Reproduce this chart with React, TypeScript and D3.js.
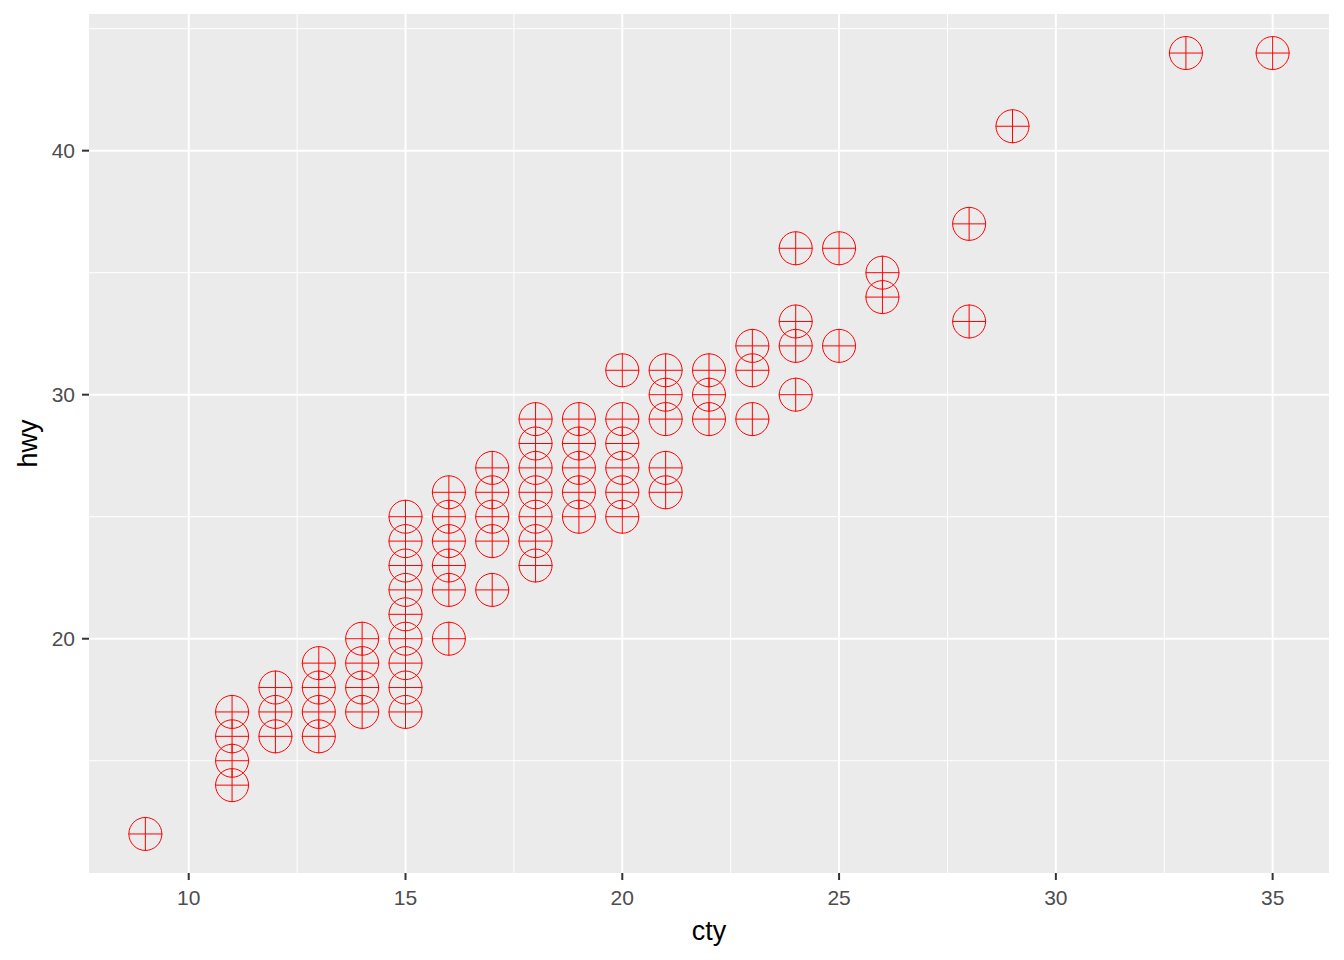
import React from 'react';
import * as d3 from 'd3';

// cty values, and the hwy values seen at each cty
const ctyValues = [9, 11, 12, 13, 14, 15, 16, 17, 18, 19, 20, 21, 22, 23, 24, 25, 26, 28, 29, 33, 35];
const hwyByCty = [
  [12],
  [14, 15, 16, 17],
  [16, 17, 18],
  [16, 17, 18, 19],
  [17, 18, 19, 20],
  [17, 18, 19, 20, 21, 22, 23, 24, 25],
  [20, 22, 23, 24, 25, 26],
  [22, 24, 25, 26, 27],
  [23, 24, 25, 26, 27, 28, 29],
  [25, 26, 27, 28, 29],
  [25, 26, 27, 28, 29, 31],
  [26, 27, 29, 30, 31],
  [29, 30, 31],
  [29, 31, 32],
  [30, 32, 33, 36],
  [32, 36],
  [34, 35],
  [33, 37],
  [41],
  [44],
  [44],
];
const xTicks = [10, 15, 20, 25, 30, 35];
const xMinor = [12.5, 17.5, 22.5, 27.5, 32.5];
const yTicks = [20, 30, 40];
const yMinor = [15, 25, 35, 45];

const W = 1344;
const H = 960;
const margin = { top: 14, right: 15, bottom: 87, left: 89 };

const points = ctyValues.flatMap((c, i) => hwyByCty[i].map(h => ({ cty: c, hwy: h })));

export default function App() {
  const x0 = d3.min(points, d => d.cty)!;
  const x1 = d3.max(points, d => d.cty)!;
  const y0 = d3.min(points, d => d.hwy)!;
  const y1 = d3.max(points, d => d.hwy)!;
  const xPad = (x1 - x0) * 0.05;
  const yPad = (y1 - y0) * 0.05;

  const x = d3.scaleLinear()
    .domain([x0 - xPad, x1 + xPad])
    .range([margin.left, W - margin.right]);
  const y = d3.scaleLinear()
    .domain([y0 - yPad, y1 + yPad])
    .range([H - margin.bottom, margin.top]);

  const left = margin.left;
  const right = W - margin.right;
  const top = margin.top;
  const bottom = H - margin.bottom;
  const r = 17;
  const font = 'Liberation Sans, Arial, sans-serif';

  return (
    <svg width={W} height={H} style={{ position: 'absolute', left: 0, top: 0 }}>
      <rect x={0} y={0} width={W} height={H} fill="#fff" />
      <rect x={left} y={top} width={right - left} height={bottom - top} fill="#EBEBEB" />

      {xMinor.map(t => (
        <line key={'xm' + t} x1={x(t)} x2={x(t)} y1={top} y2={bottom} stroke="#fff" strokeWidth={1} />
      ))}
      {yMinor.map(t => (
        <line key={'ym' + t} x1={left} x2={right} y1={y(t)} y2={y(t)} stroke="#fff" strokeWidth={1} />
      ))}
      {xTicks.map(t => (
        <line key={'xM' + t} x1={x(t)} x2={x(t)} y1={top} y2={bottom} stroke="#fff" strokeWidth={2} />
      ))}
      {yTicks.map(t => (
        <line key={'yM' + t} x1={left} x2={right} y1={y(t)} y2={y(t)} stroke="#fff" strokeWidth={2} />
      ))}

      <g fill="none" stroke="#FF0000" strokeWidth={1}>
        {points.map((p, i) => {
          const cx = x(p.cty);
          const cy = y(p.hwy);
          return (
            <g key={i}>
              <circle cx={cx} cy={cy} r={r - 0.5} />
              <line x1={cx - r} x2={cx + r} y1={cy} y2={cy} />
              <line x1={cx} x2={cx} y1={cy - r} y2={cy + r} />
            </g>
          );
        })}
      </g>

      {xTicks.map(t => (
        <g key={'xt' + t}>
          <line x1={x(t)} x2={x(t)} y1={bottom} y2={bottom + 7} stroke="#333" strokeWidth={2} />
          <text x={x(t)} y={905} textAnchor="middle" fontFamily={font} fontSize={21} fill="#4D4D4D">{t}</text>
        </g>
      ))}
      {yTicks.map(t => (
        <g key={'yt' + t}>
          <line x1={left - 7} x2={left} y1={y(t)} y2={y(t)} stroke="#333" strokeWidth={2} />
          <text x={75} y={y(t) + 7.5} textAnchor="end" fontFamily={font} fontSize={21} fill="#4D4D4D">{t}</text>
        </g>
      ))}

      <text x={(left + right) / 2} y={940} textAnchor="middle" fontFamily={font} fontSize={27} fill="#000">cty</text>
      <text transform={`translate(37,${(top + bottom) / 2}) rotate(-90)`} textAnchor="middle" fontFamily={font} fontSize={27} fill="#000">hwy</text>
    </svg>
  );
}
